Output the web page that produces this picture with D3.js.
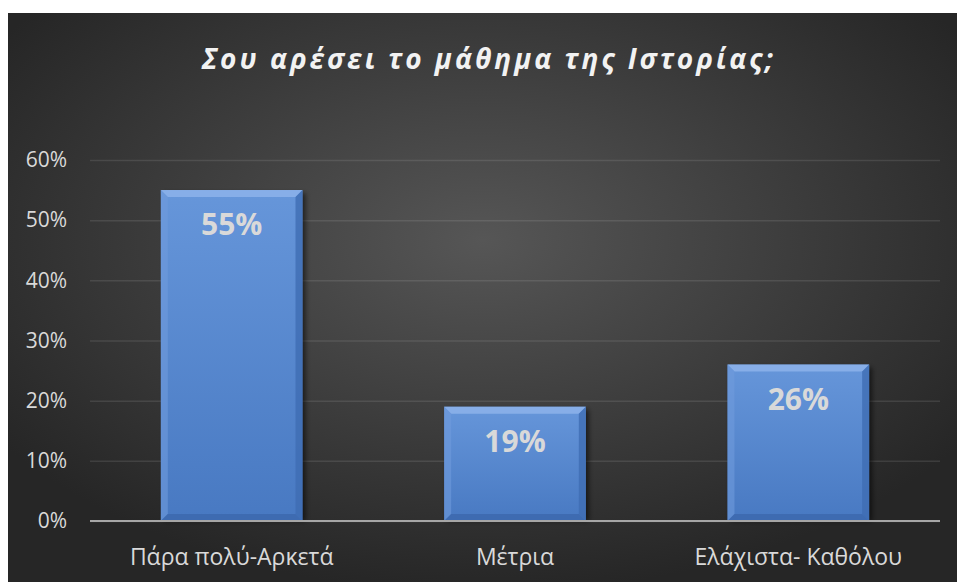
<!DOCTYPE html>
<html>
<head>
<meta charset="utf-8">
<script src="https://cdn.jsdelivr.net/npm/d3@7"></script>
<style>
  html, body { margin: 0; padding: 0; background: #ffffff; }
  svg { display: block; }
</style>
</head>
<body>
<svg id="chart" width="957" height="582"></svg>
<script>
// Survey answers and their shares
const categories = ["Πάρα πολύ-Αρκετά", "Μέτρια", "Ελάχιστα- Καθόλου"];
const values = [0.55, 0.19, 0.26];
const valueLabels = ["55%", "19%", "26%"];
const tickValues = [0, 0.1, 0.2, 0.3, 0.4, 0.5, 0.6];
const tickLabels = ["0%", "10%", "20%", "30%", "40%", "50%", "60%"];
const title = "Σου αρέσει το μάθημα της Ιστορίας;";

const W = 957, H = 582;
const frame = { x: 8, y: 13 };
const plot = { left: 90, right: 940, top: 160, bottom: 521 };

const svg = d3.select("#chart");
const defs = svg.append("defs");

// Dark radial background
const bg = defs.append("radialGradient").attr("id", "bg")
  .attr("cx", "50%").attr("cy", "40%").attr("r", "62%");
bg.append("stop").attr("offset", "0%").attr("stop-color", "#565656");
bg.append("stop").attr("offset", "100%").attr("stop-color", "#262626");

// Bar body gradient
const barG = defs.append("linearGradient").attr("id", "barFill")
  .attr("x1", 0).attr("y1", 0).attr("x2", 0).attr("y2", 1);
barG.append("stop").attr("offset", "0%").attr("stop-color", "#6696da");
barG.append("stop").attr("offset", "100%").attr("stop-color", "#4879c2");

const shadow = defs.append("filter").attr("id", "shadow")
  .attr("x", "-10%").attr("y", "-10%").attr("width", "130%").attr("height", "130%");
shadow.append("feGaussianBlur").attr("stdDeviation", 2.5);

svg.append("rect")
  .attr("x", frame.x).attr("y", frame.y)
  .attr("width", W - frame.x).attr("height", H - frame.y)
  .attr("fill", "url(#bg)");

// Title
svg.append("text")
  .attr("x", 489).attr("y", 69)
  .attr("text-anchor", "middle")
  .attr("font-family", "'Open Sans', sans-serif")
  .attr("font-style", "italic").attr("font-weight", 700)
  .attr("font-size", 28).attr("letter-spacing", 3)
  .attr("fill", "#f2f2f2")
  .text(title);

const x = d3.scaleBand().domain(categories)
  .range([plot.left, plot.right]).paddingInner(0.5).paddingOuter(0.25);
const y = d3.scaleLinear().domain([0, 0.6]).range([plot.bottom, plot.top]);

// Gridlines and value axis labels
const yAxis = d3.axisLeft(y).tickValues(tickValues)
  .tickFormat((d, i) => tickLabels[i]).tickSize(-(plot.right - plot.left)).tickPadding(23);
const gy = svg.append("g").attr("transform", `translate(${plot.left},0)`).call(yAxis);
gy.select(".domain").remove();
gy.selectAll(".tick line").attr("stroke", "rgba(255,255,255,0.1)").attr("stroke-width", 1.5);
gy.selectAll(".tick text")
  .attr("fill", "#d9d9d9")
  .attr("font-family", "'Open Sans', sans-serif").attr("font-size", 21);

// Bars with bevelled edges
const bars = svg.append("g").selectAll("g").data(categories).join("g");
bars.each(function (c, i) {
  const g = d3.select(this);
  const x0 = x(c), w = x.bandwidth();
  const y0 = y(values[i]), y1 = y(0), h = y1 - y0;
  const b = 7;
  g.append("rect").attr("x", x0 + 3).attr("y", y0 + 3).attr("width", w).attr("height", h - 3)
    .attr("fill", "rgba(0,0,0,0.55)").attr("filter", "url(#shadow)");
  g.append("rect").attr("x", x0).attr("y", y0).attr("width", w).attr("height", h)
    .attr("fill", "url(#barFill)");
  // top bevel
  g.append("path").attr("d", `M${x0},${y0}L${x0 + w},${y0}L${x0 + w - b},${y0 + b}L${x0 + b},${y0 + b}Z`)
    .attr("fill", "#8db3ea").attr("opacity", 0.85);
  // left bevel
  g.append("path").attr("d", `M${x0},${y0}L${x0 + b},${y0 + b}L${x0 + b},${y1 - b}L${x0},${y1}Z`)
    .attr("fill", "#6f9bdc").attr("opacity", 0.6);
  // right bevel
  g.append("path").attr("d", `M${x0 + w},${y0}L${x0 + w},${y1}L${x0 + w - b},${y1 - b}L${x0 + w - b},${y0 + b}Z`)
    .attr("fill", "#3f6db3").attr("opacity", 0.8);
  // bottom bevel
  g.append("path").attr("d", `M${x0},${y1}L${x0 + w},${y1}L${x0 + w - b},${y1 - b}L${x0 + b},${y1 - b}Z`)
    .attr("fill", "#3c68ac").attr("opacity", 0.8);
  g.append("text")
    .attr("x", x0 + w / 2).attr("y", y0 + 45)
    .attr("text-anchor", "middle")
    .attr("font-family", "'Open Sans', sans-serif").attr("font-weight", 700)
    .attr("font-size", 30).attr("fill", "#d9d9d9")
    .text(valueLabels[i]);
});

// Category axis
svg.append("line")
  .attr("x1", plot.left).attr("x2", plot.right)
  .attr("y1", plot.bottom).attr("y2", plot.bottom)
  .attr("stroke", "#a6a6a6").attr("stroke-width", 2);
svg.append("g").selectAll("text").data(categories).join("text")
  .attr("x", d => x(d) + x.bandwidth() / 2).attr("y", 565)
  .attr("text-anchor", "middle")
  .attr("font-family", "'Open Sans', sans-serif").attr("font-size", 23)
  .attr("fill", "#d9d9d9")
  .text(d => d);
</script>
</body>
</html>
